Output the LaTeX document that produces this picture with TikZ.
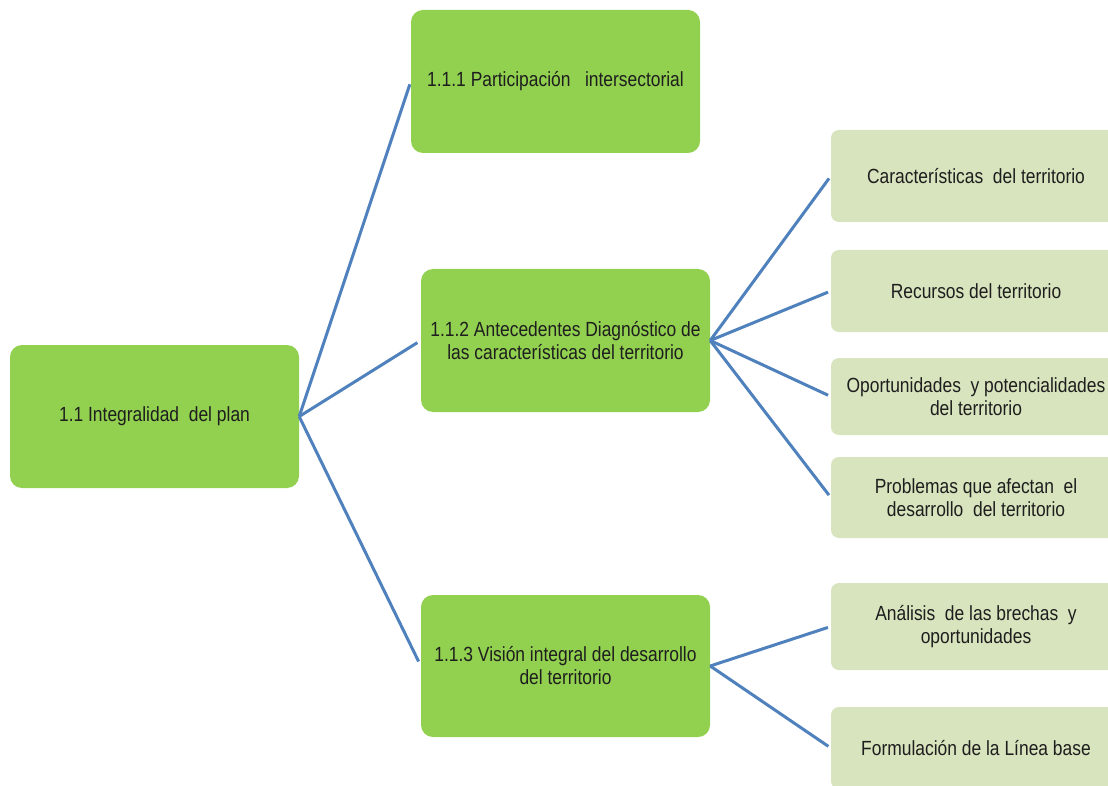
\documentclass[tikz,border=0pt]{standalone}
\usepackage{fontspec}
\setmainfont[FakeStretch=0.85]{Liberation Sans}
\definecolor{dgreen}{RGB}{146,208,80}
\definecolor{lgreen}{RGB}{215,228,189}
\definecolor{linkblue}{RGB}{79,129,189}
\definecolor{txt}{RGB}{30,30,30}
\begin{document}
\begin{tikzpicture}[x=1pt,y=-1pt,
  mainbox/.style={fill=dgreen, rounded corners=12pt, minimum width=289pt, align=center, inner sep=0pt, text=txt, font=\fontsize{20.5}{23}\selectfont},
  subbox/.style={fill=lgreen, rounded corners=8pt, minimum width=290pt, align=center, inner sep=0pt, text=txt, font=\fontsize{20.5}{23}\selectfont},
  link/.style={draw=linkblue, line width=3pt}]
\useasboundingbox (0,0) rectangle (1108,786);
\clip (0,0) rectangle (1108,786);
\fill[white] (0,0) rectangle (1108,786);

\node[mainbox, minimum height=143pt] (root) at (154.5,416.5) {1.1 Integralidad\ \ del plan};
\node[mainbox, minimum height=143pt] (n1) at (555.5,81.5) {1.1.1 Participación\ \ \ intersectorial};
\node[mainbox, minimum height=143pt] (n2) at (565.5,340.5) {1.1.2 Antecedentes Diagnóstico de\\las características del territorio};
\node[mainbox, minimum height=142pt] (n3) at (565.5,666) {1.1.3 Visión integral del desarrollo\\del territorio};

\node[subbox, minimum height=92pt] (c1) at (976,176) {Características\ \ del territorio};
\node[subbox, minimum height=82pt] (c2) at (976,291) {Recursos del territorio};
\node[subbox, minimum height=77pt] (c3) at (976,396.5) {Oportunidades\ \ y potencialidades\\del territorio};
\node[subbox, minimum height=81pt] (c4) at (976,497.5) {Problemas que afectan\ \ el\\desarrollo\ \ del territorio};
\node[subbox, minimum height=87pt] (c5) at (976,626.5) {Análisis\ \ de las brechas\ \ y\\oportunidades};
\node[subbox, minimum height=82pt] (c6) at (976,748) {Formulación de la Línea base};

\draw[link, shorten >=3pt] (root.east) -- (n1.west);
\draw[link, shorten >=4pt] (root.east) -- (n2.west);
\draw[link, shorten >=5pt] (root.east) -- (n3.west);
\foreach \c in {c1,c2,c3,c4} \draw[link, shorten >=3pt] (n2.east) -- (\c.west);
\foreach \c in {c5,c6} \draw[link, shorten >=3pt] (n3.east) -- (\c.west);
\end{tikzpicture}
\end{document}
